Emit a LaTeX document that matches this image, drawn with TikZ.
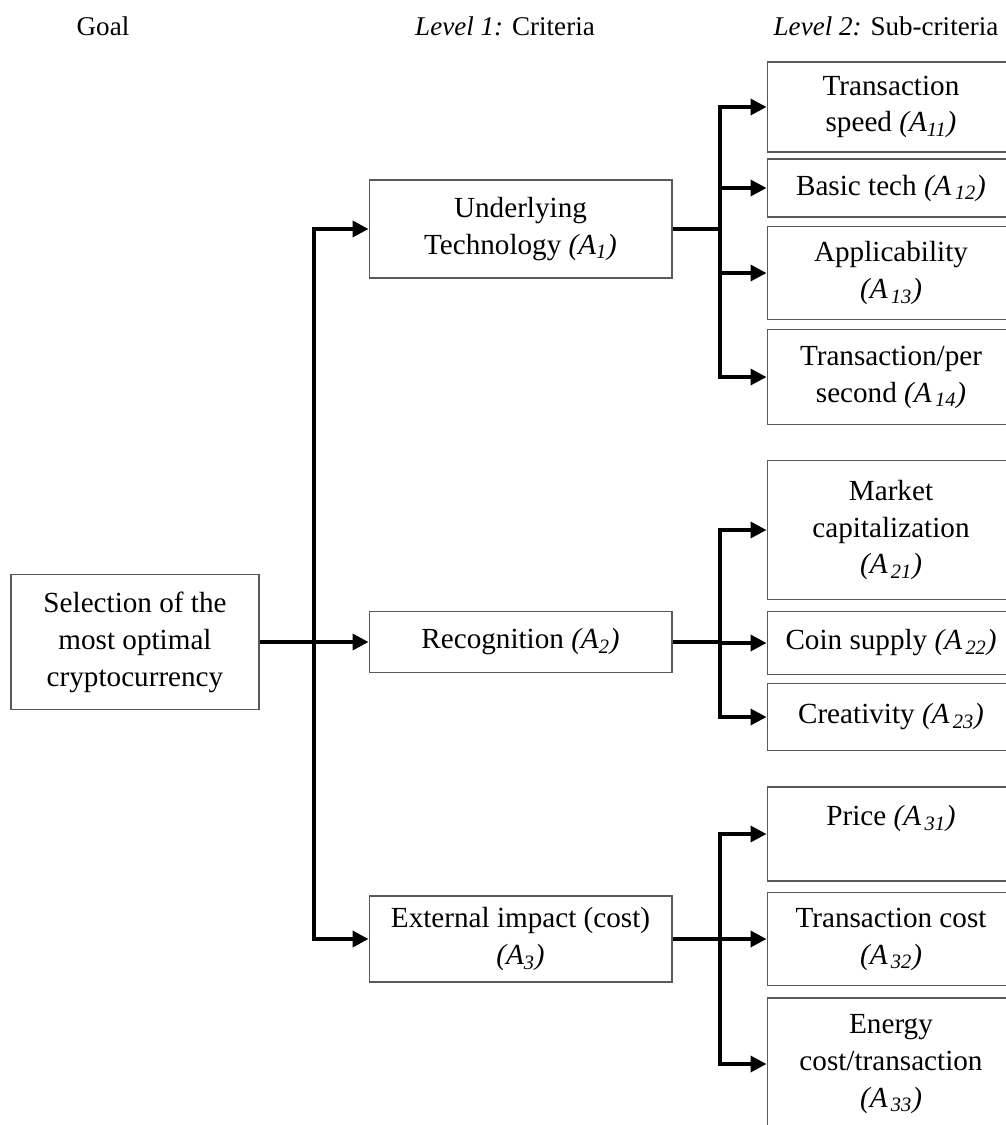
\documentclass[tikz,border=0pt]{standalone}
\usepackage{fontspec}
\setmainfont{Liberation Serif}
\usetikzlibrary{arrows.meta,calc,positioning}
\tikzset{
  crit_box/.style = {draw=black!65, line width=0.6pt, align=center, inner sep=2pt,
  font=\fontsize{16.6}{21}\selectfont},
  goal_n/.style = {crit_box, minimum width=4.96cm},
  lvl1_n/.style = {crit_box, minimum width=6.06cm},
  lvl2_n/.style = {crit_box, minimum width=4.96cm},
  head_n/.style = {font=\fontsize{15.4}{19}\selectfont}
}
\newcommand{\Aidx}[1]{\textit{(A\textsubscript{#1})}}
\newcommand{\Aidxg}[1]{\textit{(A\textsubscript{\,#1})}}

\begin{document}
\begin{tikzpicture}[x=0.02cm, y=-0.02cm,
        >={Triangle[length=0.32cm,width=0.32cm]},
        link/.style={line width=2pt}]
    \useasboundingbox (0,0) rectangle (1005,1125);
    \node [head_n] (goalhead) at (103,26) {Goal};
    \node [head_n] (lvl1head) at (505,26) {\textit{Level 1:} Criteria};
    \node [head_n] (lvl2head) at (886,26) {\textit{Level 2:} Sub-criteria};

    \node [goal_n, minimum height=2.7cm] (goal) at (135,642) {Selection of the\\ most optimal\\ cryptocurrency};

    \node [lvl1_n, minimum height=1.96cm] (A1) at (520.5,229) {Underlying\\ Technology \Aidx{1}};
    \node [lvl1_n, minimum height=1.22cm] (A2) at (520.5,642) {Recognition \Aidx{2}};
    \node [lvl1_n, minimum height=1.72cm] (A3) at (520.5,939) {External impact (cost)\\ \Aidx{3}};

    \node [lvl2_n, minimum height=1.8cm] (A11) at (891,107) {Transaction\\ speed \Aidx{11}};
    \node [lvl2_n, minimum height=1.16cm] (A12) at (891,188) {Basic tech \Aidxg{12}};
    \node [lvl2_n, minimum height=1.86cm] (A13) at (891,273) {Applicability\\ \Aidxg{13}};
    \node [lvl2_n, minimum height=1.9cm] (A14) at (891,377) {Transaction/per\\ second \Aidxg{14}};

    \node [lvl2_n, minimum height=2.78cm] (A21) at (891,530) {Market\\ capitalization\\ \Aidxg{21}};
    \node [lvl2_n, minimum height=1.26cm] (A22) at (891,643) {Coin supply \Aidxg{22}};
    \node [lvl2_n, minimum height=1.34cm] (A23) at (891,717) {Creativity \Aidxg{23}};

    \node [lvl2_n, minimum height=1.88cm] (A31) at (891,834) {Price \Aidxg{31}\\ ~};
    \node [lvl2_n, minimum height=1.86cm] (A32) at (891,939) {Transaction cost\\ \Aidxg{32}};
    \node [lvl2_n, minimum height=2.64cm] (A33) at (891,1064) {Energy\\ cost/transaction\\ \Aidxg{33}};

    \coordinate (bus0) at (314,642);
    \draw [link, ->] (goal) -- (A2);
    \draw [link, ->] (bus0) |- (A1);
    \draw [link, ->] (bus0) |- (A3);

    \coordinate (bus1) at (720,229);
    \coordinate (bus2) at (720,642);
    \coordinate (bus3) at (720,939);
    \draw [link] (A1) -- (bus1);
    \draw [link] (A2) -- (bus2);
    \draw [link] (A3) -- (bus3);
    \foreach \n in {A11,A12,A13,A14}
        \draw [link, ->] (bus1) |- (\n);
    \foreach \n in {A21,A22,A23}
        \draw [link, ->] (bus2) |- (\n);
    \foreach \n in {A31,A32,A33}
        \draw [link, ->] (bus3) |- (\n);
\end{tikzpicture}
\end{document}
